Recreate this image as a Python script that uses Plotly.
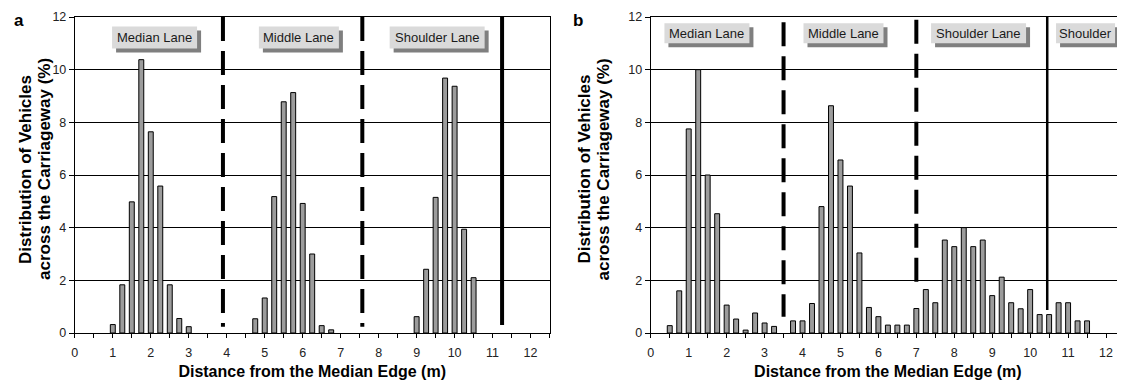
import plotly.graph_objects as go

# ---------------- data ----------------
pos_a = [1.0, 1.25, 1.5, 1.75, 2.0, 2.25, 2.5, 2.75, 3.0,
         4.75, 5.0, 5.25, 5.5, 5.75, 6.0, 6.25, 6.5, 6.75,
         9.0, 9.25, 9.5, 9.75, 10.0, 10.25, 10.5]
val_a = [0.32, 1.83, 4.98, 10.38, 7.64, 5.58, 1.83, 0.55, 0.24,
         0.54, 1.33, 5.18, 8.78, 9.13, 4.92, 3.0, 0.28, 0.12,
         0.62, 2.42, 5.15, 9.68, 9.37, 3.94, 2.1]

pos_b = [0.5, 0.75, 1.0, 1.25, 1.5, 1.75, 2.0, 2.25, 2.5, 2.75, 3.0, 3.25,
         3.75, 4.0, 4.25, 4.5, 4.75, 5.0, 5.25, 5.5, 5.75, 6.0, 6.25, 6.5, 6.75, 7.0,
         7.25, 7.5, 7.75, 8.0, 8.25, 8.5, 8.75, 9.0, 9.25, 9.5, 9.75, 10.0,
         10.25, 10.5, 10.75, 11.0, 11.25, 11.5]
val_b = [0.28, 1.6, 7.75, 10.0, 6.0, 4.53, 1.06, 0.53, 0.11, 0.76, 0.38, 0.25,
         0.46, 0.46, 1.12, 4.8, 8.63, 6.57, 5.58, 3.04, 0.97, 0.62, 0.3, 0.3, 0.3, 0.93,
         1.65, 1.15, 3.53, 3.28, 4.0, 3.28, 3.53, 1.42, 2.12, 1.15, 0.92, 1.65,
         0.7, 0.7, 1.15, 1.15, 0.46, 0.46]

# lane markings: (x position, top value, bottom value)
dashed_a = [(3.9, 12.0, 0.24), (7.57, 12.0, 0.24)]
solid_a = [(11.25, 12.0, 0.3)]
dashed_b = [(3.5, 11.8, 0.62), (7.0, 11.9, 1.63)]
solid_b = [(10.45, 12.0, 0.87)]

# lane labels: (text, x centre, y centre)
labels_a = [("Median Lane", 2.1, 11.22), ("Middle Lane", 5.9, 11.22),
            ("Shoulder Lane", 9.54, 11.22)]
labels_b = [("Median Lane", 1.48, 11.38), ("Middle Lane", 5.08, 11.38),
            ("Shoulder Lane", 8.64, 11.38), ("Shoulder", 11.46, 11.38)]

x_tick_vals = [0, 0.5, 1, 1.5, 2, 2.5, 3, 3.5, 4, 4.5, 5, 5.5, 6, 6.5,
               7, 7.5, 8, 8.5, 9, 9.5, 10, 10.5, 11, 11.5, 12, 12.5]
x_tick_text = ["0", "", "1", "", "2", "", "3", "", "4", "", "5", "", "6", "",
               "7", "", "8", "", "9", "", "10", "", "11", "", "12", ""]
y_tick_vals = [0, 2, 4, 6, 8, 10, 12]

x_title = "Distance from the Median Edge (m)"
y_title_lines = ["Distribution of Vehicles", "across the Carriageway (%)"]

FONT = "Arial, Liberation Sans, sans-serif"
OFF = 8            # page body margin
W, H = 1125 - OFF, 385 - OFF
PT, PB = 17, 333   # plot area top / bottom on screen


def px(xs):
    return (xs - OFF) / W


def py(ys):
    return (PB - ys) / (PB - PT)


fig = go.Figure()

bar_style = dict(marker=dict(color="#9c9c9c", line=dict(color="#000000", width=1)),
                 width=0.13, showlegend=False, hoverinfo="x+y")
fig.add_trace(go.Bar(x=pos_a, y=val_a, xaxis="x", yaxis="y", **bar_style))
fig.add_trace(go.Bar(x=pos_b, y=val_b, xaxis="x2", yaxis="y2", **bar_style))


def add_lines(items, xa, ya, dash, width):
    for xv, top, bot in items:
        fig.add_trace(go.Scatter(x=[xv, xv], y=[top, bot], mode="lines", xaxis=xa, yaxis=ya,
                                 line=dict(color="#000000", width=width, dash=dash),
                                 showlegend=False, hoverinfo="skip"))


add_lines(dashed_a, "x", "y", "24px,10px", 4)
add_lines(solid_a, "x", "y", "solid", 4)
add_lines(dashed_b, "x2", "y2", "24px,10px", 4)
add_lines(solid_b, "x2", "y2", "solid", 2.5)

annotations = []
shapes = []
box_w = {"Median Lane": 85, "Middle Lane": 80, "Shoulder Lane": 95, "Shoulder": 59}


def add_labels(items, xref, yref, h):
    for txt, xv, yv in items:
        w = box_w[txt]
        base = dict(type="rect", xref=xref, yref=yref, xsizemode="pixel", ysizemode="pixel",
                    xanchor=xv, yanchor=yv, line=dict(width=0), layer="above")
        shapes.append(dict(base, x0=-w / 2 + 4, x1=w / 2 + 4, y0=-h / 2 - 4, y1=h / 2 - 4,
                           fillcolor="#7f7f7f"))
        shapes.append(dict(base, x0=-w / 2, x1=w / 2, y0=-h / 2, y1=h / 2, fillcolor="#dadada"))
        annotations.append(dict(text=txt, x=xv, y=yv, xref=xref, yref=yref, showarrow=False,
                                font=dict(family=FONT, size=13, color="#1a1a1a"),
                                xanchor="center", yanchor="middle"))


add_labels(labels_a, "x", "y", 22)
add_labels(labels_b, "x2", "y2", 20)

# y-axis titles (two lines each)
for x1, x2 in ((22, 41), (583, 602)):
    for txt, xs in zip(y_title_lines, (x1, x2)):
        annotations.append(dict(text="<b>" + txt + "</b>", x=px(xs), y=py(169), xref="paper", yref="paper",
                                showarrow=False, textangle=-90,
                                font=dict(family=FONT, size=17, color="#000000"),
                                xanchor="center", yanchor="middle"))
# panel letters
for letter, xs in (("a", 16), ("b", 577)):
    annotations.append(dict(text="<b>" + letter + "</b>", x=px(xs), y=py(20), xref="paper", yref="paper",
                            showarrow=False, font=dict(family=FONT, size=17, color="#000000"),
                            xanchor="center", yanchor="middle"))

common_x = dict(range=[0, 12.5], tickmode="array", tickvals=x_tick_vals, ticktext=x_tick_text,
                ticks="outside", ticklen=4, tickcolor="#000000", showline=True, linecolor="#000000",
                linewidth=1, mirror=True, showgrid=False, zeroline=False, ticklabelstandoff=4,
                tickfont=dict(family=FONT, size=12.5, color="#222222"),
                title=dict(text="<b>" + x_title + "</b>", font=dict(family=FONT, size=16, color="#000000"),
                           standoff=6))
common_y = dict(range=[0, 12], tickmode="array", tickvals=y_tick_vals, ticks="outside", ticklen=5,
                tickcolor="#000000", showline=True, linecolor="#000000", linewidth=1,
                showgrid=True, gridcolor="#000000", gridwidth=1, zeroline=False,
                tickfont=dict(family=FONT, size=12.5, color="#222222"))

fig.update_layout(
    width=W, height=H,
    margin=dict(l=0, r=0, t=PT - OFF, b=385 - PB),
    paper_bgcolor="#ffffff", plot_bgcolor="#ffffff",
    barmode="overlay",
    xaxis=dict(common_x, domain=[px(72), px(548)], anchor="y"),
    yaxis=dict(common_y, anchor="x", mirror=True),
    xaxis2=dict(common_x, domain=[px(649.5), 1.0], anchor="y2"),
    yaxis2=dict(common_y, anchor="x2", mirror=False),
    annotations=annotations,
    shapes=shapes,
    font=dict(family=FONT),
)

fig.write_html("out.html")
